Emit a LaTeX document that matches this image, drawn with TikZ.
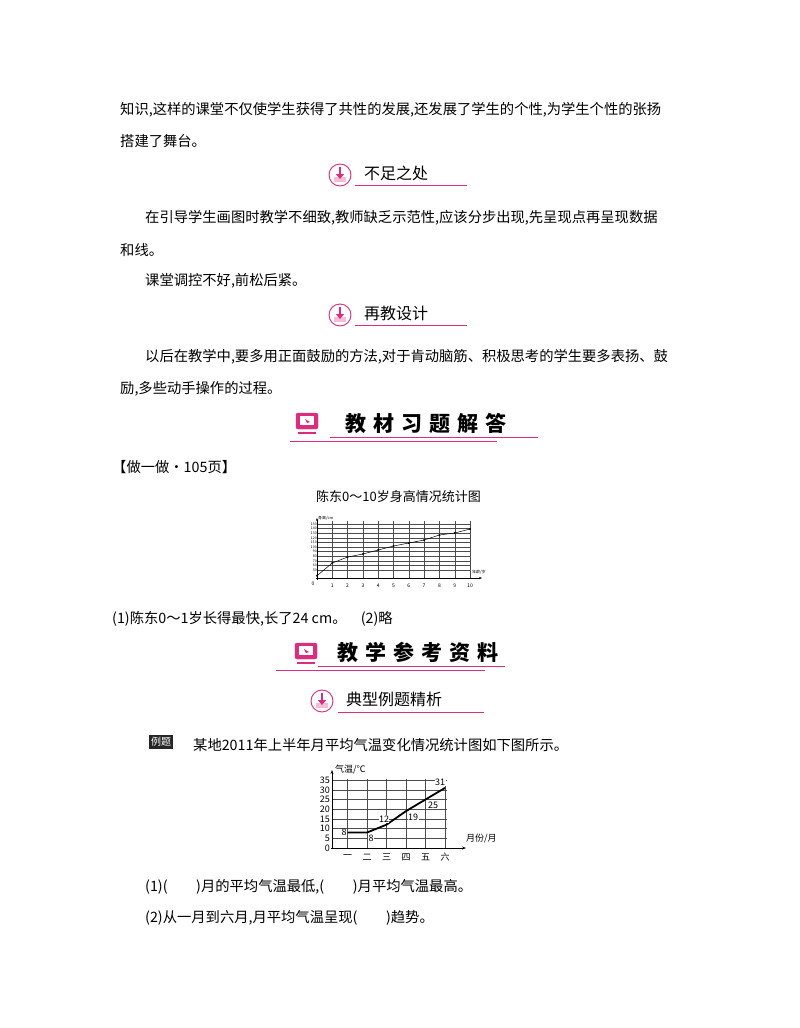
\documentclass[tikz,border=0pt]{standalone}
\usepackage{fontspec}
\setmainfont{Noto Sans CJK SC}
\usetikzlibrary{arrows.meta}
\definecolor{pk}{RGB}{218,45,125}
\definecolor{pkl}{RGB}{245,190,215}
\tikzset{txt/.style={anchor=west,inner sep=0pt,font=\fontsize{14.3}{14.3}\selectfont},
 grid/.style={line width=0.4pt,black!70},
 hline/.style={pk,line width=0.8pt}}
\newcommand\roundicon[3]{% x y name
 \node[circle,draw=pk,line width=0.9pt,fill=white,minimum size=22pt,inner sep=0pt] (#3) at (#1,#2) {};
 \fill[pkl] (#1-6,#2+2) rectangle (#1+6,#2+7);
 \draw[pk,line width=2.4pt,-{Triangle[length=5pt,width=8pt]}] (#1,#2-8) -- (#1,#2+4);}
\newcommand\monicon[3]{%
 \node[draw=pk,fill=pk,rounded corners=2pt,minimum width=22pt,minimum height=16pt,inner sep=0pt] (#3) at (#1,#2-2) {};
 \fill[white] (#1-7,#2-7) rectangle (#1+7,#2+2);
 \fill[pk] (#1-2,#2-4) -- (#1+3,#2-1) -- (#1,#2) -- cycle;
 \fill[pk] (#1-9,#2+9) rectangle (#1+9,#2+11);}
\begin{document}
\begin{tikzpicture}[x=1pt,y=-1pt]
\useasboundingbox[fill=white] (0,0) rectangle (800,1028);
\node[txt] (l1) at (120,110) {知识,这样的课堂不仅使学生获得了共性的发展,还发展了学生的个性,为学生个性的张扬};
\node[txt] (l2) at (120,141) {搭建了舞台。};
\roundicon{340}{175}{ic1}
\node[txt,font=\fontsize{16}{16}\selectfont] (h1) at (364,173) {不足之处};
\draw[hline] (355,185) -- (467,185);
\node[txt] (l3) at (145,218) {在引导学生画图时教学不细致,教师缺乏示范性,应该分步出现,先呈现点再呈现数据};
\node[txt] (l4) at (120,250) {和线。};
\node[txt] (l5) at (145,281) {课堂调控不好,前松后紧。};
\roundicon{340}{315}{ic2}
\node[txt,font=\fontsize{16}{16}\selectfont] (h2) at (364,313) {再教设计};
\draw[hline] (355,325) -- (467,325);
\node[txt] (l6) at (145,357) {以后在教学中,要多用正面鼓励的方法,对于肯动脑筋、积极思考的学生要多表扬、鼓};
\node[txt] (l7) at (120,389) {励,多些动手操作的过程。};
% big header 1
\monicon{307}{423}{m1}
\node[txt,font=\fontsize{21}{21}\selectfont\bfseries] (H1) at (345,423) {教\,\,材\,\,习\,\,题\,\,解\,\,答};
\draw[hline] (330,437) -- (538,437);
\draw[hline] (290,441) -- (497,441);
\node[txt] (z1) at (112,467) {【做一做·105页】};
\node[txt,font=\fontsize{13}{13}\selectfont] (t1) at (316,497) {陈东0～10岁身高情况统计图};
% chart 1
\foreach \i in {0,...,10} \draw[grid] (318,524+\i*4.6) -- (470,524+\i*4.6);
\foreach \i in {1,...,10} {\draw[grid] (317+\i*15.3,521) -- (317+\i*15.3,578);
  \node[font=\fontsize{5}{5}\selectfont,inner sep=0pt] (xa\i) at (317+\i*15.3,586) {\i};}
\draw[line width=0.6pt,-{Stealth[length=3pt]}] (317,580) -- (317,518);
\draw[line width=0.6pt,-{Stealth[length=3pt]}] (316,578) -- (482,578);
\node[font=\fontsize{5}{5}\selectfont,inner sep=0pt] (o1) at (313,584) {0};
\node[font=\fontsize{4}{4}\selectfont,anchor=west,inner sep=0pt] (ya) at (318,518) {身高/cm};
\node[font=\fontsize{4}{4}\selectfont,anchor=west,inner sep=0pt] (xl) at (472,572) {年龄/岁};
\foreach \v [count=\k from 0] in {150,140,130,120,110,100,90,80,70,60,50}
  \node[font=\fontsize{3.5}{3.5}\selectfont,anchor=east,inner sep=0pt] (yl\k) at (317,524+\k*4.6) {\v};
\draw[line width=0.5pt] (317,575.7) -- (332.3,563) -- (347.6,557) -- (362.9,554) -- (378.2,550) -- (393.5,546) -- (408.8,543) -- (424.1,540) -- (439.4,535) -- (454.7,533) -- (470,529);
\foreach \px/\py in {317/575.7,332.3/563,347.6/557,362.9/554,378.2/550,393.5/546,408.8/543,424.1/540,439.4/535,454.7/533,470/529}
  \fill (\px,\py) circle (1.1pt);
\node[txt] (a1) at (112,619) {(1)陈东0～1岁长得最快,长了24 cm。\quad(2)略};
% big header 2
\monicon{306}{653}{m2}
\node[txt,font=\fontsize{21}{21}\selectfont\bfseries] (H2) at (337,652) {教\,\,学\,\,参\,\,考\,\,资\,\,料};
\draw[hline] (318,666) -- (505,666);
\draw[hline] (276,670) -- (485,670);
\roundicon{322}{701}{ic3}
\node[txt,font=\fontsize{16}{16}\selectfont] (h3) at (346,699) {典型例题精析};
\draw[hline] (338,712) -- (484,712);
\node[fill=black!85,text=white,font=\fontsize{10}{10}\selectfont,inner sep=2pt] (lt) at (161,742) {例题};
\node[txt] (q) at (193,745) {某地2011年上半年月平均气温变化情况统计图如下图所示。};
% chart 2
\foreach \i in {1,...,7} \draw[grid] (332,848-\i*9.7) -- (447,848-\i*9.7);
\foreach \m [count=\k] in {一,二,三,四,五,六} {
  \draw[grid] (330+\k*19.5-2,779) -- (330+\k*19.5-2,848);
  \node[font=\fontsize{9}{9}\selectfont,inner sep=0pt] (mx\k) at (330+\k*19.5-2,857) {\m};}
\foreach \v [count=\k from 0] in {0,5,10,15,20,25,30,35}
  \node[font=\fontsize{9}{9}\selectfont,anchor=east,inner sep=0pt] (ty\k) at (330,848-\k*9.7) {\v};
\draw[line width=0.7pt,-{Stealth[length=4pt]}] (332,849) -- (332,770);
\draw[line width=0.7pt,-{Stealth[length=4pt]}] (331,848) -- (466,848);
\node[font=\fontsize{9}{9}\selectfont,anchor=west,inner sep=0pt] (ty) at (335,770) {气温/℃};
\node[font=\fontsize{9}{9}\selectfont,anchor=west,inner sep=0pt] (tx) at (466,839) {月份/月};
\draw[line width=1.8pt] (347.5,832.5) -- (367,832.5) -- (386.5,824.7) -- (406,811.1) -- (425.5,799.5) -- (445,787.9);
\node[font=\fontsize{9}{9}\selectfont,fill=white,inner sep=0.5pt] (d1) at (344,832.5) {8};
\node[font=\fontsize{9}{9}\selectfont,fill=white,inner sep=0.5pt] (d2) at (371,838) {8};
\node[font=\fontsize{9}{9}\selectfont,fill=white,inner sep=0.5pt] (d3) at (384,819) {12};
\node[font=\fontsize{9}{9}\selectfont,fill=white,inner sep=0.5pt] (d4) at (413,817) {19};
\node[font=\fontsize{9}{9}\selectfont,fill=white,inner sep=0.5pt] (d5) at (433,805) {25};
\node[font=\fontsize{9}{9}\selectfont,fill=white,inner sep=0.5pt] (d6) at (440,782) {31};
\node[txt] (p1) at (145,887) {(1)(\hspace{2em})月的平均气温最低,(\hspace{2em})月平均气温最高。};
\node[txt] (p2) at (145,918) {(2)从一月到六月,月平均气温呈现(\hspace{2em})趋势。};
\end{tikzpicture}
\end{document}
